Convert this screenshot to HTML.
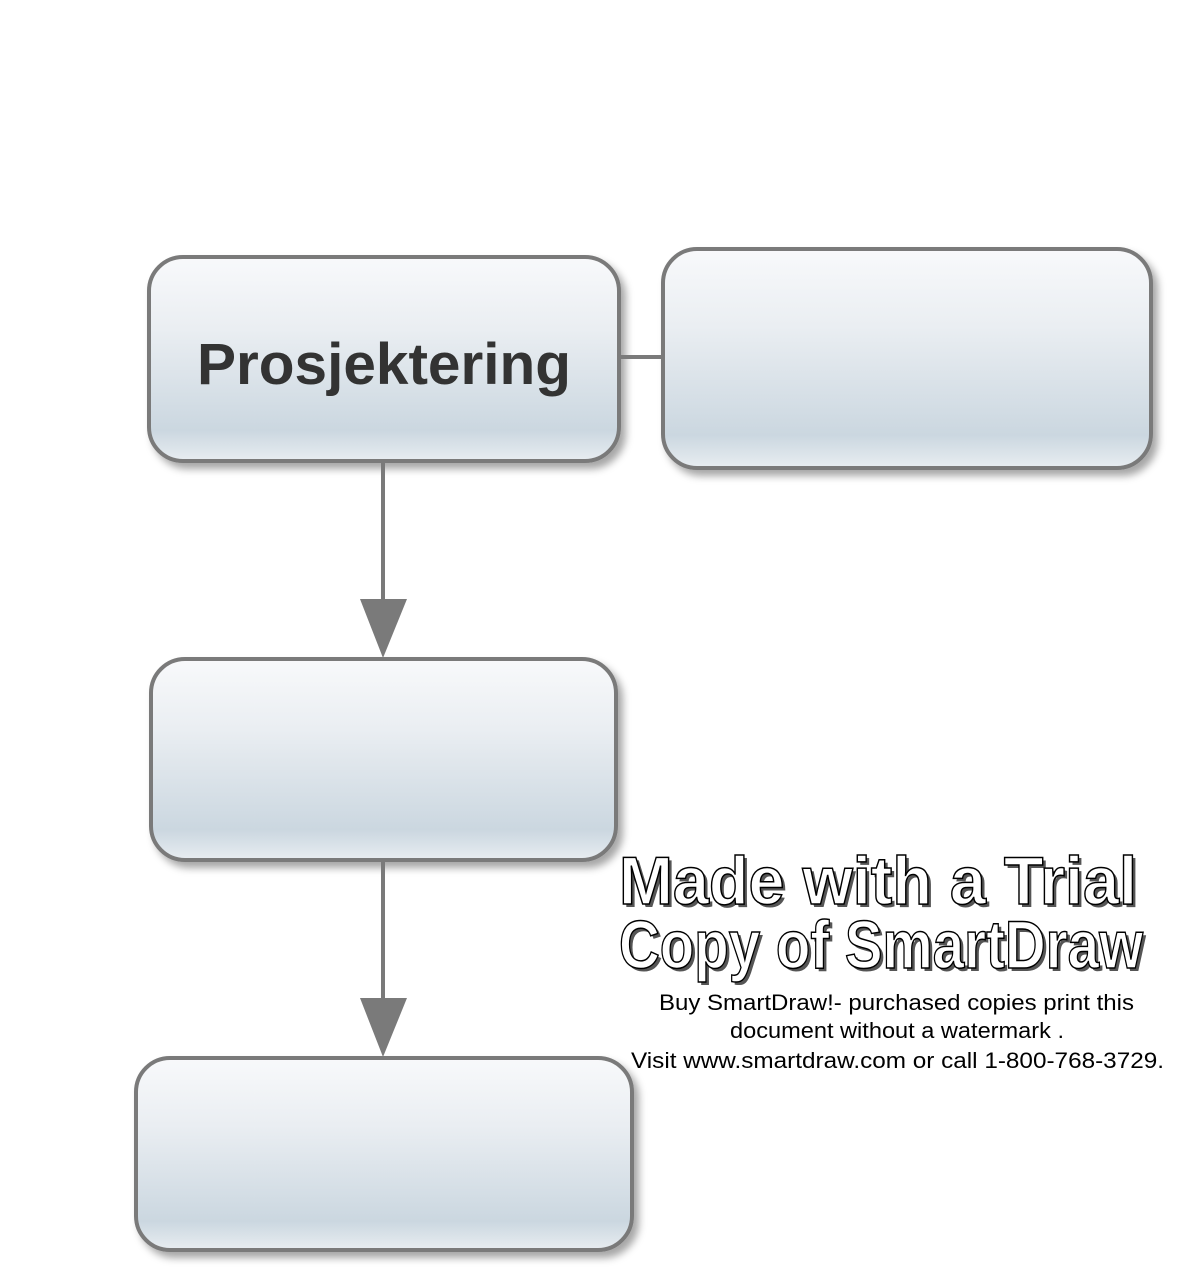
<!DOCTYPE html>
<html><head><meta charset="utf-8"><style>html,body{margin:0;padding:0;background:#fff;}svg{display:block}</style></head>
<body>
<svg width="1190" height="1288" viewBox="0 0 1190 1288" xmlns="http://www.w3.org/2000/svg">
<defs>
<linearGradient id="g" x1="0" y1="0" x2="0" y2="1">
<stop offset="0" stop-color="#f8f9fb"/><stop offset="0.35" stop-color="#eaeef2"/><stop offset="0.85" stop-color="#cbd7e0"/><stop offset="1" stop-color="#e8edf1"/>
</linearGradient>
<filter id="sh" x="-10%" y="-10%" width="130%" height="130%"><feDropShadow dx="5" dy="6" stdDeviation="4" flood-color="#000" flood-opacity="0.35"/></filter>
</defs>
<g stroke="#7a7a7a" stroke-width="4" fill="url(#g)" filter="url(#sh)">
<rect x="149" y="257" width="470" height="204" rx="34"/>
<rect x="663" y="249" width="488" height="219" rx="34"/>
<rect x="151" y="659" width="465" height="201" rx="34"/>
<rect x="136" y="1058" width="496" height="192" rx="34"/>
</g>
<g stroke="#7a7a7a" stroke-width="4">
<line x1="621" y1="357" x2="661" y2="357"/>
<line x1="383" y1="463" x2="383" y2="602"/>
<line x1="383" y1="862" x2="383" y2="1000"/>
</g>
<g fill="#7a7a7a">
<polygon points="360,599 407,599 383,658"/>
<polygon points="360,998 407,998 383,1057"/>
</g>
<text x="197" y="384" textLength="374" lengthAdjust="spacingAndGlyphs" font-family="Liberation Sans, sans-serif" font-weight="bold" font-size="58" fill="#333">Prosjektering</text>
<g font-family="Liberation Sans, sans-serif" font-weight="bold" font-size="68" fill="#fff" stroke="#000" stroke-width="1.5">
<text x="622" y="907" textLength="518" lengthAdjust="spacingAndGlyphs" fill="#555" stroke="none">Made with a Trial</text>
<text x="619" y="904" textLength="518" lengthAdjust="spacingAndGlyphs">Made with a Trial</text>
<text x="622" y="971" textLength="524" lengthAdjust="spacingAndGlyphs" fill="#555" stroke="none">Copy of SmartDraw</text>
<text x="619" y="968" textLength="524" lengthAdjust="spacingAndGlyphs">Copy of SmartDraw</text>
</g>
<g font-family="Liberation Sans, sans-serif" font-size="22" fill="#000">
<text x="659" y="1010" textLength="475" lengthAdjust="spacingAndGlyphs">Buy SmartDraw!- purchased copies print this</text>
<text x="730" y="1038" textLength="334" lengthAdjust="spacingAndGlyphs">document without a watermark .</text>
<text x="631" y="1068" textLength="533" lengthAdjust="spacingAndGlyphs">Visit www.smartdraw.com or call 1-800-768-3729.</text>
</g>
</svg>
</body></html>
